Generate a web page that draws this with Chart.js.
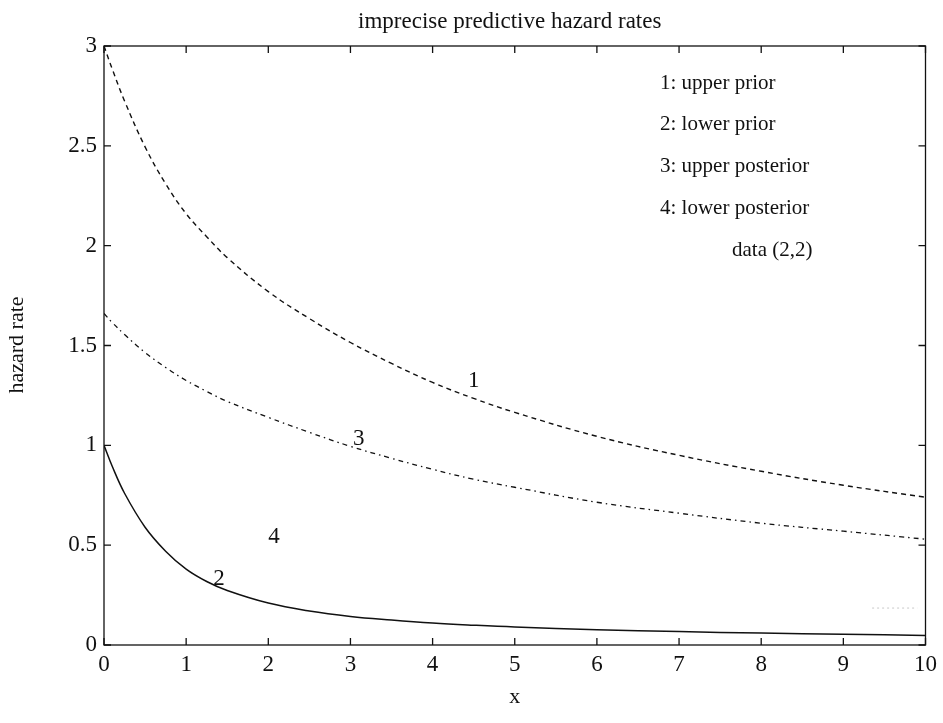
<!DOCTYPE html>
<html>
<head>
<meta charset="utf-8">
<script src="https://cdn.jsdelivr.net/npm/chart.js@4"></script>
<style>
  html, body { margin: 0; padding: 0; background: #fff; }
  #wrap { width: 943px; height: 723px; }
</style>
</head>
<body>
<div id="wrap"><canvas id="chart" width="943" height="723"></canvas></div>
<script>
// values
const xValues = [0, 0.1, 0.25, 0.5, 0.75, 1, 1.25, 1.5, 2, 2.5, 3, 3.5, 4, 4.5, 5, 6, 7, 8, 9, 10];
const upperPrior = [3.0, 2.885, 2.725, 2.495, 2.31, 2.16, 2.045, 1.94, 1.77, 1.635, 1.515, 1.41, 1.315, 1.235, 1.165, 1.045, 0.95, 0.87, 0.80, 0.74];
const lowerPrior = [1.0, 0.895, 0.76, 0.59, 0.47, 0.38, 0.318, 0.273, 0.21, 0.17, 0.143, 0.125, 0.11, 0.099, 0.09, 0.077, 0.067, 0.06, 0.054, 0.048];
const upperPosterior = [1.66, 1.615, 1.555, 1.465, 1.39, 1.325, 1.27, 1.22, 1.14, 1.065, 0.995, 0.935, 0.88, 0.83, 0.79, 0.715, 0.66, 0.61, 0.57, 0.53];
// faint remains of the lower posterior curve near the right edge
const lowerPosteriorX = [9.35, 9.9];
const lowerPosterior = [0.185, 0.185];

const xTicks = [0, 1, 2, 3, 4, 5, 6, 7, 8, 9, 10];
const yTicks = [0, 0.5, 1, 1.5, 2, 2.5, 3];

const legendLines = ["1: upper prior", "2: lower prior", "3: upper posterior", "4: lower posterior"];
const curveLabels = [
  { text: "1", x: 4.5, y: 1.32 },
  { text: "3", x: 3.1, y: 1.03 },
  { text: "2", x: 1.4, y: 0.33 },
  { text: "4", x: 2.07, y: 0.54 },
];

const SERIF = '"Liberation Serif", "DejaVu Serif", serif';
const ink = "#111";

const toPoints = (xs, ys) => xs.map((x, i) => ({ x: x, y: ys[i] }));

// MATLAB style: boxed axes, ticks pointing inward, text drawn on top
const decorations = {
  id: "decorations",
  afterDraw(chart) {
    const ctx = chart.ctx;
    const area = chart.chartArea;
    const xs = chart.scales.x;
    const ys = chart.scales.y;
    const tick = 7;

    ctx.save();
    ctx.strokeStyle = ink;
    ctx.lineWidth = 1.3;
    ctx.strokeRect(area.left, area.top, area.right - area.left, area.bottom - area.top);

    ctx.beginPath();
    xTicks.forEach(v => {
      const px = xs.getPixelForValue(v);
      ctx.moveTo(px, area.bottom); ctx.lineTo(px, area.bottom - tick);
      ctx.moveTo(px, area.top); ctx.lineTo(px, area.top + tick);
    });
    yTicks.forEach(v => {
      const py = ys.getPixelForValue(v);
      ctx.moveTo(area.left, py); ctx.lineTo(area.left + tick, py);
      ctx.moveTo(area.right, py); ctx.lineTo(area.right - tick, py);
    });
    ctx.stroke();

    ctx.fillStyle = ink;
    ctx.textAlign = "center";
    ctx.textBaseline = "middle";

    ctx.font = "23px " + SERIF;
    ctx.fillText("imprecise predictive hazard rates", (area.left + area.right) / 2 - 5, 22);

    ctx.font = "22px " + SERIF;
    ctx.fillText("x", (area.left + area.right) / 2, 697);

    ctx.save();
    ctx.translate(17, 345);
    ctx.rotate(-Math.PI / 2);
    ctx.fillText("hazard rate", 0, 0);
    ctx.restore();

    ctx.font = "21px " + SERIF;
    ctx.textAlign = "left";
    legendLines.forEach((t, i) => ctx.fillText(t, 660, 83 + i * 41.7));
    ctx.fillText("data (2,2)", 732, 250);

    ctx.textAlign = "center";
    ctx.font = "23px " + SERIF;
    curveLabels.forEach(l => ctx.fillText(l.text, xs.getPixelForValue(l.x), ys.getPixelForValue(l.y)));
    ctx.restore();
  }
};

new Chart(document.getElementById("chart"), {
  type: "line",
  data: {
    datasets: [
      {
        label: "upper prior",
        data: toPoints(xValues, upperPrior),
        borderColor: ink, borderWidth: 1.4, borderDash: [5, 4],
        pointRadius: 0, tension: 0.4,
      },
      {
        label: "lower prior",
        data: toPoints(xValues, lowerPrior),
        borderColor: ink, borderWidth: 1.5,
        pointRadius: 0, tension: 0.4,
      },
      {
        label: "upper posterior",
        data: toPoints(xValues, upperPosterior),
        borderColor: ink, borderWidth: 1.3, borderDash: [5, 4, 1.5, 4],
        pointRadius: 0, tension: 0.4,
      },
      {
        label: "lower posterior",
        data: toPoints(lowerPosteriorX, lowerPosterior),
        borderColor: "#c8c8c8", borderWidth: 1, borderDash: [2, 3],
        pointRadius: 0,
      },
    ],
  },
  options: {
    responsive: false,
    animation: false,
    layout: { padding: { left: 0, right: 16, top: 46, bottom: 0 } },
    plugins: { legend: { display: false }, tooltip: { enabled: false }, title: { display: false } },
    scales: {
      x: {
        type: "linear", min: 0, max: 10,
        grid: { display: false, drawTicks: false },
        border: { display: false },
        ticks: { stepSize: 1, color: ink, padding: 6, font: { family: SERIF, size: 23 }, maxRotation: 0 },
        afterFit: s => { s.height = 78; },
      },
      y: {
        type: "linear", min: 0, max: 3,
        grid: { display: false, drawTicks: false },
        border: { display: false },
        ticks: {
          stepSize: 0.5, color: ink, padding: 7, font: { family: SERIF, size: 23 },
          callback: v => String(Number(v)),
        },
        afterFit: s => { s.width = 104; },
      },
    },
  },
  plugins: [decorations],
});
</script>
</body>
</html>
